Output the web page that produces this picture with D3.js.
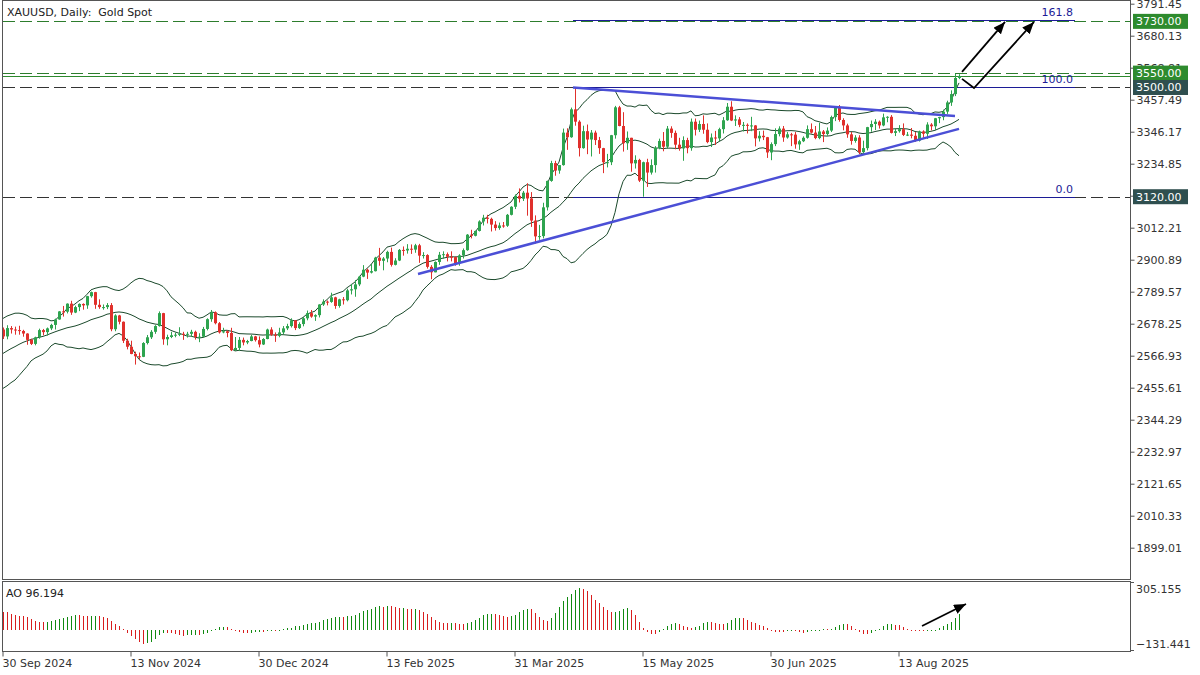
<!DOCTYPE html>
<html>
<head>
<meta charset="utf-8">
<script src="https://cdn.jsdelivr.net/npm/d3@7"></script>
<style>
  body { margin: 0; background: #fff; }
  svg { display: block; font-family: "DejaVu Sans", sans-serif; }
</style>
</head>
<body>
<svg id="chart" width="1200" height="675"></svg>
<script>
// bars before the first visible one, only used to warm up Bollinger / AO
var warmupHigh = [2464,2464,2509,2510,2531,2516,2510,2514,2521,2526,2526,2526,2525,
  2503,2503,2502,2523,2529,2509,2518,2529,2560,2586,2589,2590,2600,2595,2625,2635,2664,2670,2685,2674];
var warmupLow = [2440,2431,2456,2492,2497,2494,2471,2483,2506,2505,2497,2505,2496,
  2491,2472,2487,2491,2485,2493,2500,2500,2509,2554,2574,2565,2547,2546,2584,2612,2625,2652,2653,2644];
var warmupClose = [2447,2456,2508,2504,2514,2512,2485,2512,2518,2525,2504,2521,2503,
  2500,2493,2495,2516,2497,2506,2516,2512,2558,2578,2582,2569,2559,2587,2622,2629,2657,2657,2672,2658];

// visible daily bars, 30 Sep 2024 .. 3 Sep 2025
var open = [2658,2634,2663,2658,2656,2653,2644,2622,2608,2631,2656,2649,2662,2674,2693,2721,2720,2748,2717,2736,
  2747,2742,2774,2788,2744,2736,2736,2743,2659,2707,2685,2619,2598,2573,2565,2563,2611,2631,2650,2670,
  2715,2624,2632,2638,2640,2643,2640,2643,2650,2632,2633,2660,2694,2718,2680,2648,2652,2646,2586,2594,
  2622,2613,2618,2634,2621,2606,2625,2658,2640,2636,2648,2662,2670,2690,2663,2677,2697,2715,2703,2708,
  2745,2755,2754,2770,2740,2763,2760,2794,2798,2815,2842,2866,2856,2861,2908,2897,2905,2928,2883,2898,
  2935,2933,2939,2936,2951,2915,2917,2876,2857,2893,2918,2920,2911,2910,2889,2916,2934,2988,2984,3001,
  3034,3047,3043,3023,3011,3020,3019,3057,3085,3123,3113,3134,3114,3037,2982,2983,3083,3175,3237,3211,
  3230,3343,3327,3424,3381,3289,3348,3319,3343,3317,3289,3240,3240,3334,3431,3366,3306,3325,3236,3248,
  3176,3240,3204,3230,3290,3314,3294,3357,3342,3301,3288,3317,3289,3381,3353,3373,3353,3310,3326,3323,
  3355,3386,3433,3385,3389,3370,3370,3368,3368,3323,3332,3327,3274,3303,3338,3357,3326,3337,3336,3302,
  3313,3325,3355,3343,3324,3347,3338,3350,3397,3431,3387,3368,3337,3314,3326,3275,3289,3362,3373,3381,
  3368,3396,3398,3342,3348,3355,3335,3336,3332,3315,3347,3339,3371,3365,3393,3397,3416,3448,3477,3533];
var high = [2665,2673,2670,2668,2671,2657,2645,2626,2633,2661,2660,2665,2678,2696,2722,2740,2749,2758,2741,2749,
  2749,2775,2790,2789,2763,2745,2750,2750,2711,2709,2686,2626,2619,2581,2578,2614,2639,2656,2673,2721,
  2716,2640,2650,2647,2666,2650,2650,2657,2654,2645,2667,2697,2726,2721,2684,2664,2655,2664,2632,2632,
  2630,2622,2639,2636,2634,2628,2661,2666,2648,2664,2670,2678,2697,2691,2683,2702,2724,2726,2711,2746,
  2763,2759,2786,2772,2765,2771,2800,2817,2830,2845,2882,2870,2886,2911,2942,2910,2932,2943,2906,2938,
  2947,2955,2954,2956,2956,2927,2920,2882,2895,2928,2930,2926,2930,2912,2920,2940,2990,3005,3002,3038,
  3057,3057,3047,3035,3030,3032,3060,3087,3128,3149,3140,3167,3136,3055,3022,3099,3176,3245,3245,3230,
  3357,3358,3430,3500,3386,3367,3371,3352,3350,3328,3290,3269,3335,3436,3436,3414,3347,3325,3264,3252,
  3242,3252,3250,3296,3322,3345,3366,3365,3350,3325,3330,3325,3392,3392,3385,3403,3375,3340,3349,3360,
  3397,3446,3452,3403,3397,3380,3375,3398,3369,3348,3350,3328,3309,3358,3365,3366,3345,3342,3345,3318,
  3330,3368,3375,3366,3377,3352,3361,3402,3433,3439,3393,3374,3345,3334,3334,3315,3363,3385,3390,3385,
  3409,3400,3404,3358,3369,3375,3345,3359,3345,3350,3351,3379,3376,3394,3398,3423,3454,3490,3548,3546];
var low = [2625,2624,2644,2640,2640,2633,2605,2604,2603,2626,2638,2637,2656,2658,2692,2703,2714,2709,2715,2722,
  2727,2730,2769,2730,2730,2727,2729,2652,2652,2676,2611,2589,2572,2536,2555,2562,2606,2625,2643,2668,
  2605,2603,2628,2631,2635,2622,2630,2632,2623,2614,2631,2655,2685,2676,2644,2645,2631,2583,2584,2583,
  2603,2607,2617,2616,2596,2604,2624,2636,2615,2631,2641,2656,2665,2656,2660,2669,2690,2699,2688,2700,
  2740,2742,2751,2730,2734,2745,2756,2780,2772,2809,2840,2834,2853,2860,2880,2864,2892,2877,2881,2896,
  2915,2922,2921,2925,2890,2905,2870,2833,2857,2883,2905,2895,2895,2880,2880,2905,2932,2975,2982,2999,
  3020,3027,2999,3002,3005,3012,3015,3055,3077,3100,3105,3054,3015,2957,2970,2975,3072,3172,3193,3200,
  3228,3283,3325,3367,3260,3287,3268,3260,3300,3269,3202,3222,3230,3322,3365,3277,3283,3207,3218,3171,
  3120,3154,3197,3204,3285,3278,3287,3325,3285,3280,3245,3271,3280,3333,3345,3339,3306,3293,3300,3313,
  3340,3384,3383,3366,3362,3347,3340,3348,3295,3312,3317,3255,3247,3296,3330,3311,3322,3296,3287,3283,
  3310,3322,3340,3320,3320,3310,3332,3345,3383,3381,3351,3325,3301,3308,3268,3268,3281,3346,3352,3357,
  3365,3379,3340,3331,3343,3331,3331,3323,3311,3312,3325,3321,3351,3352,3376,3386,3408,3436,3470,3529];
var close = [2634,2663,2658,2656,2653,2644,2622,2608,2631,2656,2649,2662,2674,2693,2721,2720,2748,2717,2736,2747,
  2742,2774,2788,2744,2736,2736,2743,2659,2707,2685,2619,2598,2573,2565,2563,2611,2631,2650,2670,2715,
  2624,2632,2638,2640,2643,2640,2643,2650,2632,2633,2660,2694,2718,2680,2648,2652,2646,2586,2594,2622,
  2613,2618,2634,2621,2606,2625,2658,2640,2636,2648,2662,2670,2690,2663,2677,2697,2715,2703,2708,2745,
  2755,2754,2770,2740,2763,2760,2794,2798,2815,2842,2866,2856,2861,2908,2897,2905,2928,2883,2898,2935,
  2933,2939,2936,2951,2915,2917,2876,2857,2893,2918,2920,2911,2910,2889,2916,2934,2988,2984,3001,3034,
  3047,3043,3023,3011,3020,3019,3057,3085,3123,3113,3134,3114,3037,2982,2983,3083,3175,3237,3211,3230,
  3343,3327,3424,3381,3289,3348,3319,3343,3317,3289,3240,3240,3334,3431,3366,3306,3325,3236,3248,3176,
  3240,3204,3230,3290,3314,3294,3357,3342,3301,3288,3317,3289,3381,3353,3373,3353,3310,3326,3323,3355,
  3386,3433,3385,3389,3370,3370,3368,3368,3323,3332,3327,3274,3303,3338,3357,3326,3337,3336,3302,3313,
  3325,3355,3343,3324,3347,3338,3350,3397,3431,3387,3368,3337,3314,3326,3275,3289,3362,3373,3381,3368,
  3396,3398,3342,3348,3355,3335,3336,3332,3315,3347,3339,3371,3365,3393,3397,3416,3448,3477,3533,3540];

var priceTicks = [3791.45,3680.13,3568.81,3457.49,3346.17,3234.85,3123.53,3012.21,2900.89,2789.57,
  2678.25,2566.93,2455.61,2344.29,2232.97,2121.65,2010.33,1899.01];
var tickBars = [0, 32, 64, 96, 128, 160, 192, 224];
var tickLabels = ["30 Sep 2024","13 Nov 2024","30 Dec 2024","13 Feb 2025","31 Mar 2025","15 May 2025","30 Jun 2025","13 Aug 2025"];
var aoRange = [-131.441, 305.155];

var greenLevels = [3730, 3550];
var darkLevels = [3500, 3120];
var bidPrice = 3540;
var fibBase = [3120, 3500];
var fibRatios = [0, 1, 1.618];
var fibLabels = ["0.0", "100.0", "161.8"];
var fibBars = [142.5, 268];
var trendUpper = [[142.5, 3500], [238, 3401]];
var trendLower = [[103.75, 2851], [239, 3356]];
var arrowA = [[239.75, 3554], [250.5, 3728]];
var arrowB = [[239.75, 3530], [242.75, 3498], [257.75, 3728]];
var aoArrow = [[229.75, 23], [240.75, 164]];

var BULL = "#2ea44f", BEAR = "#e0302c";
var plotL = 3, plotR = 1130, mainT = 0, mainB = 579, aoT = 582, aoB = 651;

var svg = d3.select("#chart");
var x = d3.scaleLinear().domain([0, 281.75]).range([plotL, plotR]);
var y = d3.scaleLinear().domain([1899.01, 3791.45]).range([547.7, 3.7]);
var yAo = d3.scaleLinear().domain(aoRange).range([aoB - 1, aoT]);

// indicators
var W = warmupClose.length;
var allHigh = warmupHigh.concat(high);
var allLow = warmupLow.concat(low);
var allClose = warmupClose.concat(close);
var median = allHigh.map(function (h, i) { return (h + allLow[i]) / 2; });

function sma(arr, n, i) {
  var s = 0;
  for (var k = i - n + 1; k <= i; k++) s += arr[k];
  return s / n;
}

var bands = close.map(function (c, i) {
  var j = i + W;
  var m = sma(allClose, 20, j);
  var v = 0;
  for (var k = j - 19; k <= j; k++) v += (allClose[k] - m) * (allClose[k] - m);
  var sd = Math.sqrt(v / 20);
  return { i: i, mid: m, up: m + 2 * sd, dn: m - 2 * sd };
});

var aoAll = [];
for (var j = 33; j < median.length; j++) aoAll.push(sma(median, 5, j) - sma(median, 34, j));
var aoPrev = aoAll.slice(0, aoAll.length - close.length);
var ao = aoAll.slice(aoAll.length - close.length);

var defs = svg.append("defs");
defs.append("clipPath").attr("id", "clipMain").append("rect")
  .attr("x", plotL).attr("y", mainT).attr("width", plotR - plotL).attr("height", mainB - mainT);
defs.append("clipPath").attr("id", "clipAo").append("rect")
  .attr("x", plotL).attr("y", aoT).attr("width", plotR - plotL).attr("height", aoB - aoT);
defs.append("marker").attr("id", "head").attr("viewBox", "0 0 12 10")
  .attr("refX", 12).attr("refY", 5).attr("markerWidth", 12).attr("markerHeight", 10)
  .attr("markerUnits", "userSpaceOnUse").attr("orient", "auto")
  .append("path").attr("d", "M0,0L12,5L0,10z").attr("fill", "#000");

var main = svg.append("g").attr("clip-path", "url(#clipMain)");

// horizontal levels
main.selectAll(".glev").data(greenLevels).enter().append("line")
  .attr("x1", plotL).attr("x2", plotR)
  .attr("y1", function (d) { return Math.round(y(d)) + 0.5; })
  .attr("y2", function (d) { return Math.round(y(d)) + 0.5; })
  .attr("stroke", "#2d7d2d").attr("stroke-dasharray", "12,5");
main.selectAll(".dlev").data(darkLevels).enter().append("line")
  .attr("x1", plotL).attr("x2", plotR)
  .attr("y1", function (d) { return Math.round(y(d)) + 0.5; })
  .attr("y2", function (d) { return Math.round(y(d)) + 0.5; })
  .attr("stroke", "#333").attr("stroke-dasharray", "12,5");
main.append("line")
  .attr("x1", plotL).attr("x2", plotR)
  .attr("y1", Math.round(y(bidPrice)) + 0.5).attr("y2", Math.round(y(bidPrice)) + 0.5)
  .attr("stroke", "#2d8a2d");

// fibo expansion
var fib = main.selectAll(".fib").data(fibRatios).enter().append("g");
fib.append("line")
  .attr("x1", x(fibBars[0])).attr("x2", x(fibBars[1]))
  .attr("y1", function (d) { return Math.round(y(fibBase[0] + d * (fibBase[1] - fibBase[0]))) + 0.5; })
  .attr("y2", function (d) { return Math.round(y(fibBase[0] + d * (fibBase[1] - fibBase[0]))) + 0.5; })
  .attr("stroke", "#1c1c96");
fib.append("text")
  .attr("x", x(fibBars[1]) - 2)
  .attr("y", function (d) { return y(fibBase[0] + d * (fibBase[1] - fibBase[0])) - 4; })
  .attr("text-anchor", "end").attr("font-size", 11).attr("fill", "#1c1c96")
  .text(function (d, i) { return fibLabels[i]; });

// bollinger bands
["up", "mid", "dn"].forEach(function (k) {
  main.append("path").datum(bands)
    .attr("d", d3.line().x(function (d) { return x(d.i); }).y(function (d) { return y(d[k]); }))
    .attr("fill", "none").attr("stroke", "#1b4a2c").attr("stroke-width", 1);
});

// candles
var candles = main.selectAll(".c").data(close).enter().append("g");
candles.append("line")
  .attr("x1", function (d, i) { return Math.round(x(i)) + 0.5; })
  .attr("x2", function (d, i) { return Math.round(x(i)) + 0.5; })
  .attr("y1", function (d, i) { return y(high[i]); })
  .attr("y2", function (d, i) { return y(low[i]); })
  .attr("stroke", function (d, i) { return d >= open[i] ? BULL : BEAR; });
candles.append("rect")
  .attr("x", function (d, i) { return Math.round(x(i)) - 1; })
  .attr("width", 3)
  .attr("y", function (d, i) { return y(Math.max(d, open[i])); })
  .attr("height", function (d, i) { return Math.max(1, y(Math.min(d, open[i])) - y(Math.max(d, open[i]))); })
  .attr("fill", function (d, i) { return d >= open[i] ? BULL : BEAR; });

// trend lines
var pline = d3.line().x(function (d) { return x(d[0]); }).y(function (d) { return y(d[1]); });
[trendUpper, trendLower].forEach(function (t) {
  main.append("path").attr("d", pline(t))
    .attr("stroke", "#4b4fd6").attr("stroke-width", 2.5).attr("fill", "none");
});
[arrowA, arrowB].forEach(function (a) {
  main.append("path").attr("d", pline(a))
    .attr("stroke", "#000").attr("stroke-width", 1.8).attr("fill", "none")
    .attr("marker-end", "url(#head)");
});

// title
svg.append("text").attr("x", 7).attr("y", 16).attr("font-size", 11).attr("fill", "#222")
  .style("white-space", "pre").text("XAUUSD, Daily:  Gold Spot");

// AO panel
var aoG = svg.append("g").attr("clip-path", "url(#clipAo)");
aoG.selectAll(".ao").data(ao).enter().append("rect")
  .attr("x", function (d, i) { return Math.round(x(i)); })
  .attr("width", 1)
  .attr("y", function (d) { return Math.min(yAo(0), yAo(d)); })
  .attr("height", function (d) { return Math.max(1, Math.abs(yAo(d) - yAo(0))); })
  .attr("shape-rendering", "crispEdges")
  .attr("fill", function (d, i) {
    var p = i > 0 ? ao[i - 1] : aoPrev[aoPrev.length - 1];
    return d > p ? "#118a11" : "#d81e1e";
  });
var aoLine = d3.line().x(function (d) { return x(d[0]); }).y(function (d) { return yAo(d[1]); });
aoG.append("path").attr("d", aoLine(aoArrow))
  .attr("stroke", "#000").attr("stroke-width", 1.8).attr("fill", "none")
  .attr("marker-end", "url(#head)");
svg.append("text").attr("x", 6).attr("y", 597).attr("font-size", 11).attr("fill", "#222")
  .text("AO 96.194");

// frames
svg.append("rect").attr("x", 2.5).attr("y", 0.5).attr("width", plotR - 2).attr("height", mainB)
  .attr("fill", "none").attr("stroke", "#555");
svg.append("rect").attr("x", 2.5).attr("y", aoT - 0.5).attr("width", plotR - 2).attr("height", aoB - aoT + 1)
  .attr("fill", "none").attr("stroke", "#555");

// price axis
var pAxis = svg.append("g").attr("transform", "translate(" + (plotR + 0.5) + ",0)")
  .call(d3.axisRight(y).tickValues(priceTicks).tickSize(4).tickPadding(2).tickFormat(d3.format(".2f")));
pAxis.select(".domain").remove();
pAxis.selectAll("line").attr("stroke", "#555");
pAxis.selectAll("text").attr("font-family", "DejaVu Sans").attr("font-size", 11).attr("fill", "#333");

// price boxes
var boxes = greenLevels.map(function (p) { return { p: p, c: "#2e8b2e" }; })
  .concat(darkLevels.map(function (p) { return { p: p, c: "#2f4f4f" }; }));
var bx = svg.selectAll(".box").data(boxes).enter().append("g");
bx.append("rect").attr("x", plotR + 3).attr("width", 55)
  .attr("y", function (d) { return y(d.p) - 7.5; }).attr("height", 15)
  .attr("fill", function (d) { return d.c; });
bx.append("text").attr("x", plotR + 6).attr("y", function (d) { return y(d.p) + 4; })
  .attr("font-size", 11).attr("fill", "#fff")
  .text(function (d) { return d3.format(".2f")(d.p); });

// AO axis
svg.selectAll(".aot").data(aoRange).enter().append("line")
  .attr("x1", plotR).attr("x2", plotR + 4)
  .attr("y1", function (d) { return Math.round(yAo(d)) + 0.5; })
  .attr("y2", function (d) { return Math.round(yAo(d)) + 0.5; })
  .attr("stroke", "#555");
svg.selectAll(".aol").data(aoRange).enter().append("text")
  .attr("x", plotR + 6)
  .attr("y", function (d, i) { return i === 1 ? yAo(d) + 11 : yAo(d) - 2; })
  .attr("font-size", 11).attr("fill", "#333")
  .text(function (d) { return d3.format(".3f")(d); });

// date axis
var dAxis = svg.append("g").attr("transform", "translate(0," + (aoB + 0.5) + ")")
  .call(d3.axisBottom(x).tickValues(tickBars).tickSize(5).tickPadding(3)
    .tickFormat(function (d, i) { return tickLabels[i]; }));
dAxis.select(".domain").remove();
dAxis.selectAll("line").attr("stroke", "#555").attr("transform", "translate(-0.5,0)");
dAxis.selectAll("text").attr("text-anchor", "start").attr("font-family", "DejaVu Sans")
  .attr("font-size", 11).attr("fill", "#333").attr("dx", -1);
</script>
</body>
</html>
